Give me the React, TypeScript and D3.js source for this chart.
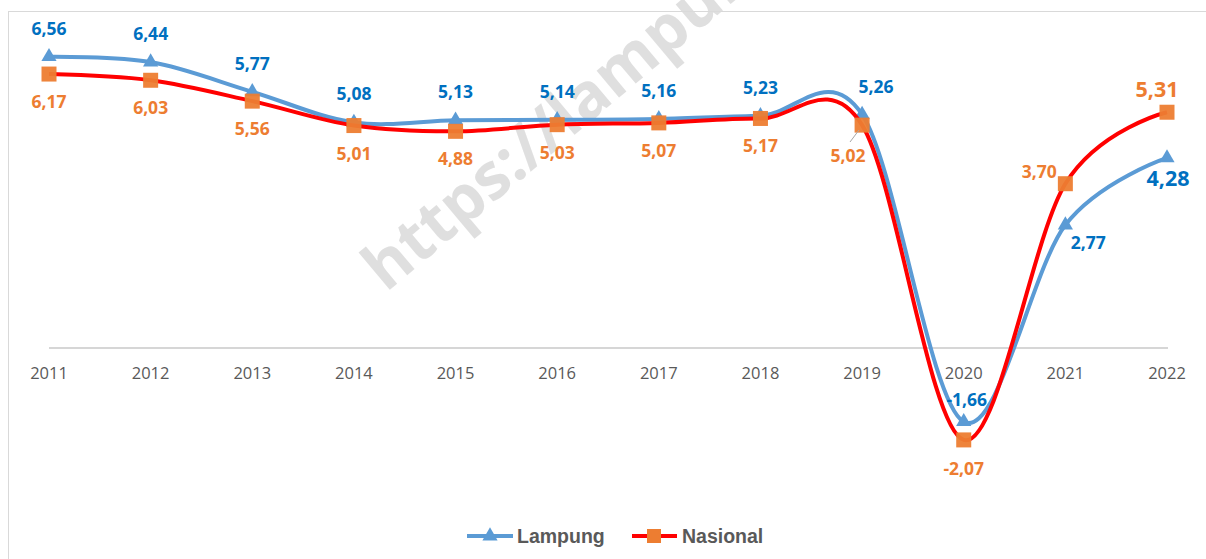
import * as React from 'react';
import * as d3 from 'd3';

const years = ['2011', '2012', '2013', '2014', '2015', '2016', '2017', '2018', '2019', '2020', '2021', '2022'];
const lampung = [6.56, 6.44, 5.77, 5.08, 5.13, 5.14, 5.16, 5.23, 5.26, -1.66, 2.77, 4.28];
const nasional = [6.17, 6.03, 5.56, 5.01, 4.88, 5.03, 5.07, 5.17, 5.02, -2.07, 3.70, 5.31];
const seriesNames = ['Lampung', 'Nasional'];

// label nudges (dx, dy from marker)
const lampungLabelPos: [number, number][] = [
  [0, -22], [0, -22], [0, -22], [0, -22], [0, -22], [0, -22],
  [0, -22], [0, -22], [14, -21], [3, -16], [23, 24], [1, 28],
];
const nasionalLabelPos: [number, number][] = [
  [0, 34], [0, 34], [0, 34], [0, 34], [0, 34], [0, 34],
  [0, 34], [0, 34], [-14, 37], [0, 35], [-26, -6], [-10, -15],
];

const W = 1206;
const H = 559;
const BLUE = '#5B9BD5';
const BLUE_TXT = '#0070C0';
const RED = '#FF0000';
const ORANGE = '#ED7D31';
const GRAY_TXT = '#595959';

const fmt = (v: number) => v.toFixed(2).replace('.', ',');

function translate(x: number, y: number) {
  return `translate(${x}, ${y})`;
}

export default function App() {
  const x = d3.scalePoint<string>().domain(years).range([49, 1167]);
  const y = d3.scaleLinear().domain([-3, 7]).range([481.2, 37.2]);

  const line = d3.line<number>()
    .x((_, i) => x(years[i])!)
    .y(d => y(d))
    .curve(d3.curveCardinal.tension(0));

  const tri = d3.symbol().type(d3.symbolTriangle).size(100)()!;

  const isLast = (i: number) => i === years.length - 1;

  return (
    <>
      <style>{'body{margin:0}'}</style>
      <svg width={W} height={H} style={{ display: 'block', fontFamily: '"Open Sans", sans-serif' }}>
        <rect x={8.5} y={11.5} width={W + 10} height={H + 10} fill="#fff" stroke="#d9d9d9" strokeWidth={1} />

        {/* watermark, runs off the top like the original */}
        <text
          transform={`${translate(386, 293)} rotate(-40)`}
          fontSize={64}
          fontWeight="bold"
          fill="#d9d9d9"
          fillOpacity={0.85}
        >https://lampung</text>

        {/* category axis */}
        <line x1={x('2011')} x2={x('2022')! + 1} y1={y(0)} y2={y(0)} stroke="#c9c9c9" strokeWidth={1.5} />
        {years.map(yr => (
          <text key={yr} x={x(yr)} y={y(0) + 31} textAnchor="middle" fontSize={16.5} fill={GRAY_TXT}>{yr}</text>
        ))}

        {/* Lampung */}
        <path d={line(lampung)!} fill="none" stroke={BLUE} strokeWidth={4} />
        {lampung.map((v, i) => (
          <path key={i} d={tri} transform={translate(x(years[i])!, y(v))} fill={BLUE} />
        ))}

        {/* Nasional */}
        <path d={line(nasional)!} fill="none" stroke={RED} strokeWidth={4} />
        {nasional.map((v, i) => (
          <rect key={i} x={x(years[i])! - 7.5} y={y(v) - 7.5} width={15} height={15} fill={ORANGE} fillOpacity={0.95} />
        ))}

        {/* leader line 2019 */}
        <line x1={850} y1={142} x2={859} y2={130} stroke="#a6a6a6" strokeWidth={1} />

        {/* data labels */}
        {lampung.map((v, i) => (
          <text key={i}
            x={x(years[i])! + lampungLabelPos[i][0]}
            y={y(v) + lampungLabelPos[i][1]}
            textAnchor="middle" fontWeight="bold"
            fontSize={isLast(i) ? 21.5 : 17.5}
            fill={BLUE_TXT}>{fmt(v)}</text>
        ))}
        {nasional.map((v, i) => (
          <text key={i}
            x={x(years[i])! + nasionalLabelPos[i][0]}
            y={y(v) + nasionalLabelPos[i][1]}
            textAnchor="middle" fontWeight="bold"
            fontSize={isLast(i) ? 21.5 : 17.5}
            fill={ORANGE}>{fmt(v)}</text>
        ))}

        {/* legend */}
        <g fontFamily='"Liberation Sans", Arial, sans-serif' fontWeight="bold" fontSize={19.5} fill={GRAY_TXT}>
          <line x1={467} x2={513} y1={536} y2={536} stroke={BLUE} strokeWidth={4} />
          <path d={tri} transform={translate(490, 536)} fill={BLUE} />
          <text x={517} y={543}>{seriesNames[0]}</text>
          <line x1={632} x2={677} y1={536} y2={536} stroke={RED} strokeWidth={4} />
          <rect x={647} y={529} width={14} height={14} fill={ORANGE} />
          <text x={682} y={543}>{seriesNames[1]}</text>
        </g>
      </svg>
    </>
  );
}
